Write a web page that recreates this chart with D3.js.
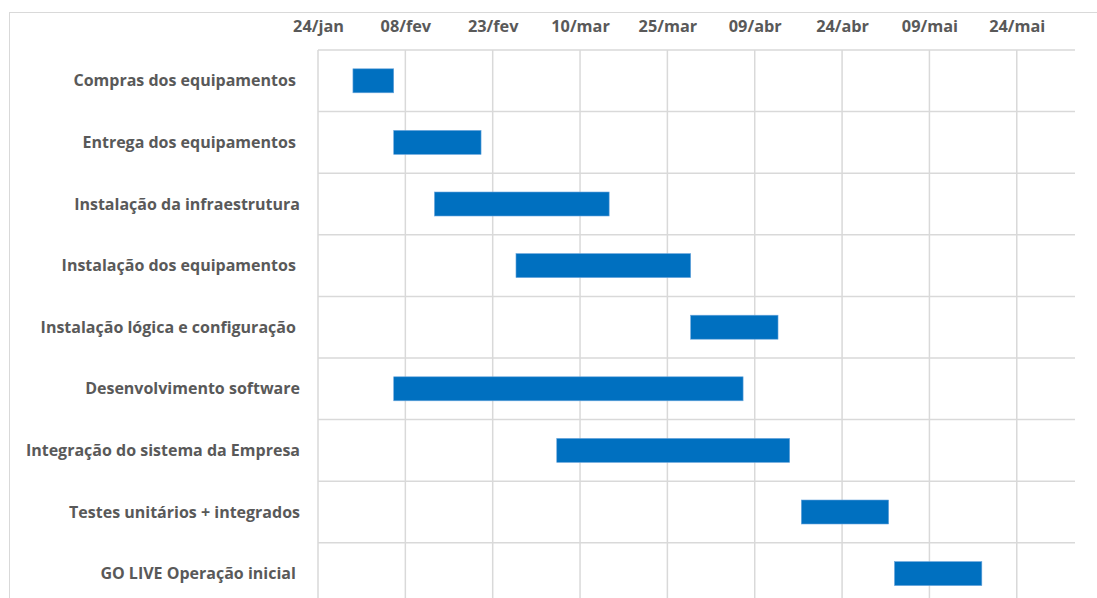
<!DOCTYPE html>
<html><head><meta charset="utf-8">
<script src="https://cdn.jsdelivr.net/npm/d3@7"></script>
<style>body{margin:0;background:#fff;} text{white-space:pre;}</style>
</head><body>
<svg id="c" width="1097" height="598"></svg>
<script>
const tasks = ["Compras dos equipamentos ", "Entrega dos equipamentos ", "Instalação da infraestrutura", "Instalação dos equipamentos ", "Instalação lógica e configuração ", "Desenvolvimento software", "Integração do sistema da Empresa", "Testes unitários + integrados", "GO LIVE Operação inicial "];
const startDates = ["2021-01-30", "2021-02-06", "2021-02-13", "2021-02-27", "2021-03-29", "2021-02-06", "2021-03-06", "2021-04-17", "2021-05-03"];
const durations = [7, 15, 30, 30, 15, 60, 40, 15, 15];
const tickLabels = ["24/jan", "08/fev", "23/fev", "10/mar", "25/mar", "09/abr", "24/abr", "09/mai", "24/mai"];
const tickDates = ["2021-01-24", "2021-02-08", "2021-02-23", "2021-03-10", "2021-03-25", "2021-04-09", "2021-04-24", "2021-05-09", "2021-05-24"];
const domainDates = ["2021-01-24", "2021-06-03"];

(function () {
const parse = d3.utcParse("%Y-%m-%d");
const svg = d3.select("#c");
const mLeft = 318, mRight = 1075, mTop = 50, rowH = 61.6;
const mBottom = mTop + rowH * tasks.length;
const font = "'Open Sans', sans-serif";

svg.append("rect").attr("x", 9.5).attr("y", 12.5).attr("width", 1200).attr("height", 700)
  .attr("fill", "none").attr("stroke", "#d9d9d9").attr("stroke-width", 1);

const x = d3.scaleUtc().domain(domainDates.map(parse)).range([mLeft, mRight]);
const y = d3.scaleBand().domain(tasks).range([mTop, mBottom]);

const g = svg.append("g");
g.selectAll("line.h").data(d3.range(tasks.length + 1)).join("line")
  .attr("x1", mLeft).attr("x2", mRight)
  .attr("y1", i => mTop + i * rowH).attr("y2", i => mTop + i * rowH)
  .attr("stroke", "#d9d9d9").attr("stroke-width", 1.5);
g.selectAll("line.v").data(tickDates).join("line")
  .attr("x1", d => x(parse(d))).attr("x2", d => x(parse(d)))
  .attr("y1", mTop).attr("y2", mBottom)
  .attr("stroke", "#d9d9d9").attr("stroke-width", 1.5);

const axis = d3.axisTop(x).tickValues(tickDates.map(parse))
  .tickFormat((d, i) => tickLabels[i]).tickSize(0).tickPadding(0);
const ax = svg.append("g").attr("transform", "translate(0,32)").call(axis);
ax.select(".domain").remove();
ax.selectAll("text").attr("font-family", font).attr("font-weight", "bold")
  .attr("font-size", 16.3).attr("fill", "#595959").attr("dy", 0);

svg.append("g").selectAll("text").data(tasks).join("text")
  .attr("x", 300).attr("y", d => y(d) + y.bandwidth() / 2).attr("dy", "0.35em")
  .attr("text-anchor", "end").attr("font-family", font)
  .attr("font-weight", "bold").attr("font-size", 16).attr("fill", "#595959")
  .text(d => d);

const barH = 24;
svg.append("g").selectAll("rect").data(tasks).join("rect")
  .attr("x", (d, i) => x(parse(startDates[i])))
  .attr("width", (d, i) => x(d3.utcDay.offset(parse(startDates[i]), durations[i])) - x(parse(startDates[i])))
  .attr("y", d => y(d) + y.bandwidth() / 2 - barH / 2)
  .attr("height", barH)
  .attr("fill", "#0070c0").attr("stroke", "#6aa6dc").attr("stroke-width", 0.6);
})();
</script>
</body></html>
